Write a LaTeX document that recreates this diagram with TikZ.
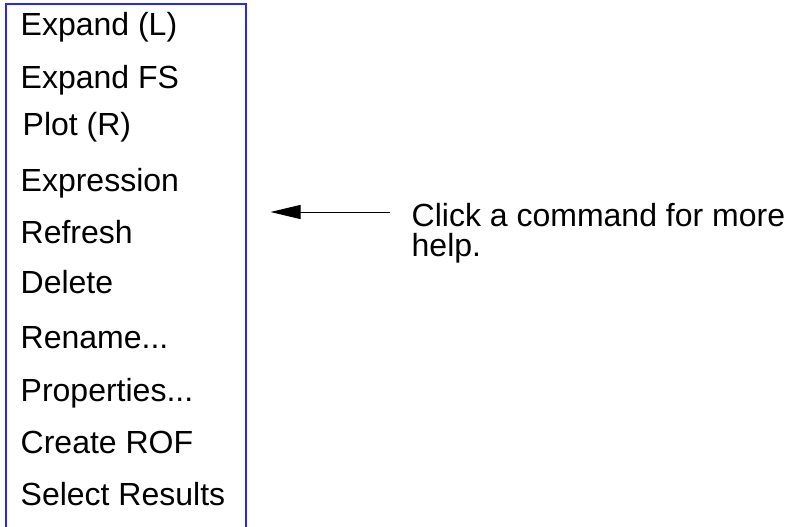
\documentclass[tikz,border=0pt]{standalone}
\usepackage{fontspec}
\setmainfont{Liberation Sans}
\usetikzlibrary{arrows.meta}
\definecolor{framecol}{rgb}{0.15,0.15,1}
\tikzset{
  item/.style={anchor=base west, inner sep=0pt, font=\fontsize{32}{29}\selectfont},
  note/.style={anchor=base west, inner sep=0pt, font=\fontsize{32}{29}\selectfont},
  frame/.style={draw=framecol, line width=1.1pt},
  pointer/.style={-{Triangle[length=30pt,width=14pt]}, line width=1pt}
}
\begin{document}
\begin{tikzpicture}[x=1pt,y=-1pt]
\useasboundingbox (0,0) rectangle (790,527);
\draw[frame] (6,540) -- (6,4) -- (246,4) -- (246,540);
\node[item] (i1) at (20.5,35.5) {Expand (L)};
\node[item] (i2) at (20.5,88.5) {Expand FS};
\node[item] (i3) at (22.5,135.5) {Plot (R)};
\node[item] (i4) at (20.5,191) {Expression};
\node[item] (i5) at (20.5,243) {Refresh};
\node[item] (i6) at (20.5,293.5) {Delete};
\node[item] (i7) at (20.5,348) {Rename...};
\node[item] (i8) at (20.5,401) {Properties...};
\node[item] (i9) at (20.5,453) {Create ROF};
\node[item] (i10) at (20.5,505.5) {Select Results};
\node[note] (n1) at (411.5,226.5) {Click a command for more};
\node[note] (n2) at (411.5,256) {help.};
\coordinate (tail) at (390,212);
\coordinate (tip) at (270.5,212);
\draw[pointer] (tail) -- (tip);
\end{tikzpicture}
\end{document}
